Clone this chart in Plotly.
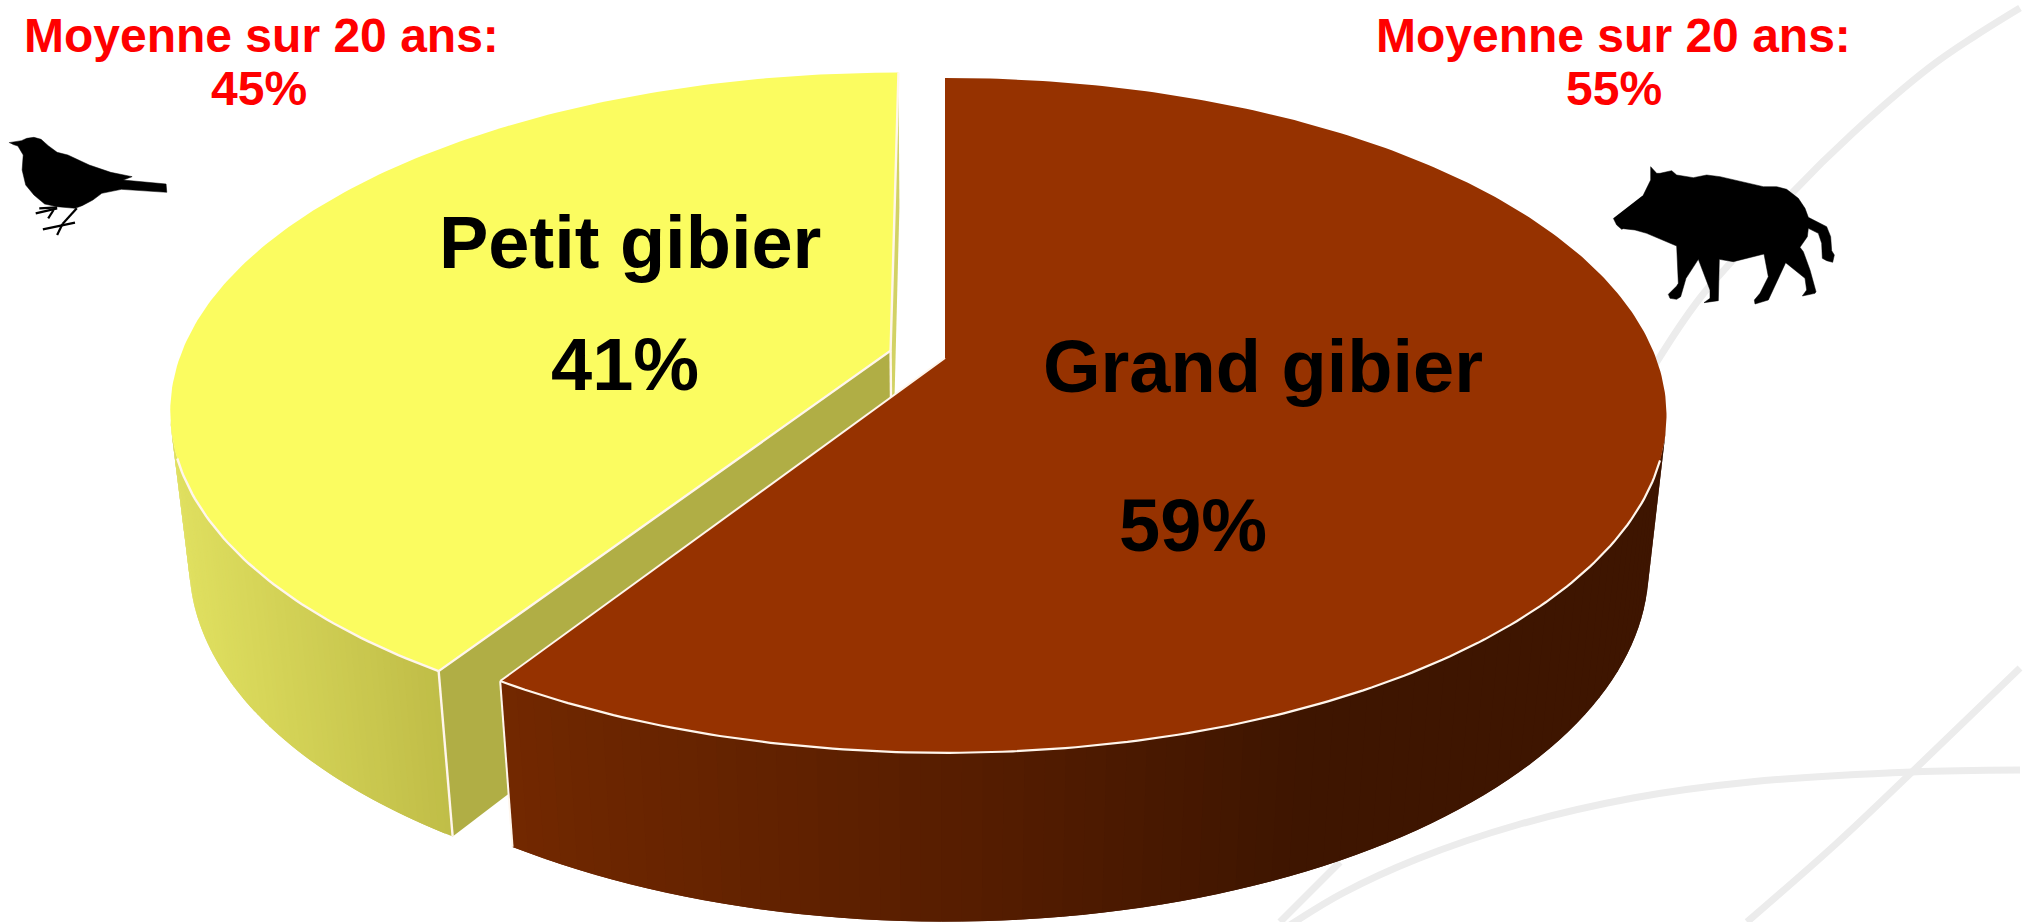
import numpy as np
import plotly.graph_objects as go

# ---- data ----
categories = ["Petit gibier", "Grand gibier"]
shares = [41, 59]
averages = [45, 55]
average_title = "Moyenne sur 20 ans:"

# ---- style ----
WIDTH, HEIGHT = 2033, 922
FONT = "Liberation Sans, Arial, sans-serif"
TOP_COL = {"Petit gibier": "#fbfc60", "Grand gibier": "#963200"}
CURVE_COL = "#ececec"

# perspective model of the disc
CX, CY = 945.0, 358.0
AX, BY, BZ = 711.0, 327.7, 154.0
KY, KZ = 0.170, 0.0245
EXPLODE = 0.08


def project(x, y, z=0.0):
    """unit disc (x, y), z = -1 on the bottom face -> picture coordinates"""
    x, y = np.asarray(x, float), np.asarray(y, float)
    w = 1 + KY * y - KZ * z
    return CX + AX * x / w, CY - (BY * y + BZ * z) / w


def lerp_col(stops, sx):
    xs = [s[0] for s in stops]
    r = np.interp(sx, xs, [s[1][0] for s in stops])
    g = np.interp(sx, xs, [s[1][1] for s in stops])
    b = np.interp(sx, xs, [s[1][2] for s in stops])
    return f"rgb({r:.0f},{g:.0f},{b:.0f})"


fig = go.Figure()


def poly(xs, ys, col, lw=0.0, shape="linear"):
    fig.add_trace(go.Scatter(x=list(xs), y=list(ys), mode="lines", fill="toself", fillcolor=col,
                             line=dict(color=col, width=lw, shape=shape), hoverinfo="skip", showlegend=False))


def line(xs, ys, col="#fff6ec", lw=2.4, shape="linear"):
    fig.add_trace(go.Scatter(x=list(xs), y=list(ys), mode="lines",
                             line=dict(color=col, width=lw, shape=shape),
                             hoverinfo="skip", showlegend=False))


def wall(cx0, cy0, t0, t1, stops, n=70):
    """outer wall as overlapping strips, shaded by picture x, so no seams show"""
    ts = np.linspace(t0, t1, n)
    for i in range(n - 1):
        seg = ts[i:min(i + 3, n)]
        tx, ty = project(cx0 + np.sin(seg), cy0 + np.cos(seg), 0)
        bx, by = project(cx0 + np.sin(seg), cy0 + np.cos(seg), -1)
        poly(list(tx) + list(bx[::-1]), list(ty) + list(by[::-1]), lerp_col(stops, (tx[0] + tx[1]) / 2))


# ---- background curves ----
curve_a = ([2020, 1975, 1930, 1853, 1793, 1733, 1700, 1658, 1640], [8, 36, 67, 133, 192, 260, 298, 360, 392])
curve_b = ([2020, 1912, 1837, 1747], [668, 772, 843, 922])
curve_c = ([2020, 1912, 1750, 1633, 1517, 1417, 1343, 1290], [770, 772, 782, 798, 825, 859, 893, 925])
curve_d = ([1340, 1280], [862, 922])
for cx_, cy_ in (curve_a, curve_b, curve_c, curve_d):
    line(cx_, cy_, CURVE_COL, 7, "spline")

# ---- pie geometry comes from the shares ----
total = sum(shares)
small, big = shares
big_end = 2 * np.pi * big / total          # clockwise from the top
small_mid = big_end + np.pi * small / total
ox, oy = EXPLODE * np.sin(small_mid), EXPLODE * np.cos(small_mid)

YELLOW_WALL = [(170, (224, 224, 96)), (455, (190, 187, 70))]
BROWN_WALL = [(500, (114, 40, 0)), (1000, (84, 28, 0)), (1300, (62, 21, 0))]

# --- small game slice (behind) ---
name = categories[0]
t = np.linspace(big_end, 2 * np.pi, 200)
wall(ox, oy, big_end, np.radians(258), YELLOW_WALL)
ax_t, ay_t = project(ox, oy, 0)
ax_b, ay_b = project(ox, oy, -1)
cx_t, cy_t = project(ox + np.sin(big_end), oy + np.cos(big_end), 0)
cx_b, cy_b = project(ox + np.sin(big_end), oy + np.cos(big_end), -1)
rx_t, ry_t = project(ox, oy + 1, 0)
rx_b, ry_b = project(ox, oy + 1, -1)
poly([ax_t, rx_t, rx_b, ax_b], [ay_t, ry_t, ry_b, ay_b], "#d2d264")
poly([ax_t, cx_t, cx_b, ax_b], [ay_t, cy_t, cy_b, ay_b], "#b0ae45")
sx, sy = project(ox + np.sin(t), oy + np.cos(t), 0)
poly(list(sx) + [ax_t], list(sy) + [ay_t], TOP_COL[name])
front = t <= np.radians(252)
line(sx[front], sy[front])
line([cx_t, ax_t, rx_t], [cy_t, ay_t, ry_t])
line([cx_t, cx_b], [cy_t, cy_b])
line([ax_t, ax_b], [ay_t, ay_b])

# --- big game slice (front) ---
name = categories[1]
t = np.linspace(0, big_end, 300)
wall(0, 0, np.radians(102), big_end, BROWN_WALL, 80)
sx, sy = project(np.sin(t), np.cos(t), 0)
ox0, oy0 = project(0, 0, 0)
poly(list(sx) + [ox0], list(sy) + [oy0], TOP_COL[name])
front = t >= np.radians(107)
line(sx[front], sy[front], lw=2.2)
line([sx[-1], ox0], [sy[-1], oy0], lw=2)
ex_b, ey_b = project(np.sin(big_end), np.cos(big_end), -1)
line([sx[-1], ex_b], [sy[-1], ey_b], lw=2)

# ---- silhouettes (decoration), traced in zoomed crops ----
boar = [(160,265),(170,285),(185,298),(190,296),(225,300),(260,310),(350,348),(355,460),(350,468),(325,493),
        (330,505),(350,508),(362,500),(378,445),(415,388),(450,480),(450,505),(432,518),(475,512),(478,388),
        (520,395),(612,372),(625,440),(600,490),(583,510),(585,522),(625,510),(677,398),(735,445),(740,480),
        (727,498),(765,490),(768,485),(750,420),(730,365),(720,352),(742,320),(745,295),(775,310),(785,340),
        (787,385),(800,392),(818,397),(823,375),(815,362),(812,320),(800,290),(745,262),(735,235),(715,205),
        (680,178),(650,170),(610,170),(540,155),(480,140),(440,135),(400,143),(350,135),(335,122),(300,130),
        (290,130),(272,110),(272,150),(250,195)]
poly([1560 + p[0] / 3 for p in boar], [130 + p[1] / 3 for p in boar], "#000000", 0.5)

bird = [(25,428),(45,424),(60,422),(75,415),(95,412),(115,418),(135,437),(160,457),(190,465),(250,495),
        (310,517),(370,530),(345,540),(465,552),(467,577),(340,568),(285,580),(260,600),(230,617),(210,625),
        (160,620),(125,612),(95,585),(72,555),(62,510),(65,465),(50,438),(35,433)]
poly([p[0] / 2.8 for p in bird], [p[1] / 3 for p in bird], "#000000", 0.5)
bird_legs = [[(100,640),(160,625)], [(110,625),(160,622)], [(135,655),(150,630)],
             [(215,625),(175,672)], [(120,688),(210,668)], [(160,705),(175,672)]]
for seg in bird_legs:
    line([p[0] / 2.8 for p in seg], [p[1] / 3 for p in seg], "#000000", 2.2)


# ---- texts ----
def note(x, y, text, size, color):
    fig.add_annotation(x=x, y=y, text=f"<b>{text}</b>", showarrow=False, xanchor="center", yanchor="middle",
                       font=dict(family=FONT, size=size, color=color))


note(261, 35, average_title, 48, "#ff0000")
note(259, 88, f"{averages[0]}%", 48, "#ff0000")
note(1613, 35, average_title, 48, "#ff0000")
note(1614, 88, f"{averages[1]}%", 48, "#ff0000")
note(630, 242, categories[0], 74, "#000000")
note(625, 364, f"{shares[0]}%", 74, "#000000")
note(1263, 366, categories[1], 74, "#000000")
note(1193, 525, f"{shares[1]}%", 74, "#000000")

fig.update_layout(width=WIDTH, height=HEIGHT, margin=dict(l=0, r=0, t=0, b=0),
                  paper_bgcolor="white", plot_bgcolor="white", showlegend=False,
                  xaxis=dict(range=[0, WIDTH], visible=False, fixedrange=True),
                  yaxis=dict(range=[HEIGHT, 0], visible=False, fixedrange=True))
fig.write_html("out.html", config={"displayModeBar": False},
               post_script="document.body.style.margin='0';document.documentElement.style.overflow='hidden';")
